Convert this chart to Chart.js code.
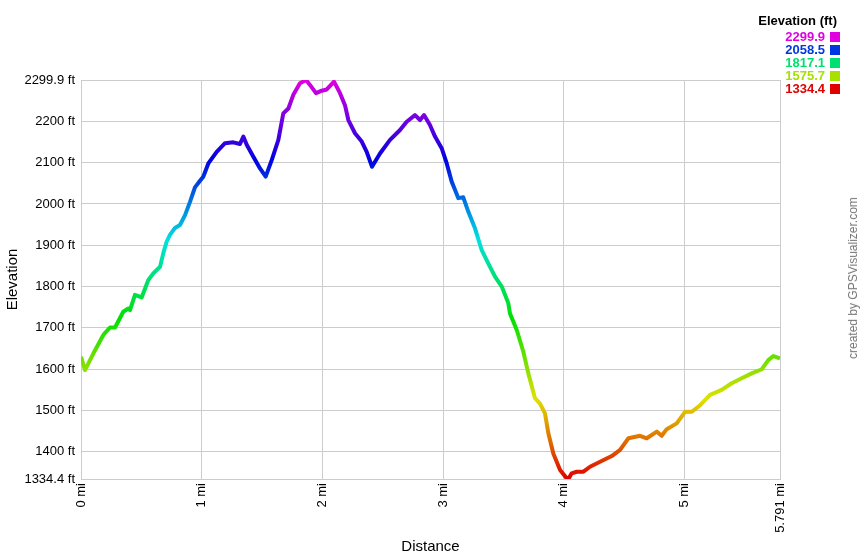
<!DOCTYPE html>
<html>
<head>
<meta charset="utf-8">
<script src="https://cdn.jsdelivr.net/npm/chart.js@4/dist/chart.umd.min.js"></script>
<style>
	html, body { margin: 0; padding: 0; background: #fff; }
	#wrap { position: relative; width: 860px; height: 560px; font-family: Arial, "Liberation Sans", sans-serif; }
	#profile { position: absolute; left: 0; top: 0; }
	#legendTitle { position: absolute; right: 23px; top: 13px; font-weight: bold; font-size: 13px; color: #000; }
	.legRow { position: absolute; right: 20px; height: 13px; line-height: 13px; font-weight: bold; font-size: 13px; white-space: nowrap; }
	.legRow span.sw { display: inline-block; width: 10px; height: 10px; margin-left: 5px; vertical-align: -1px; }
	#credit { position: absolute; left: 853px; top: 278px; transform: translate(-50%, -50%) rotate(-90deg); font-size: 12px; color: #777; white-space: nowrap; }
</style>
</head>
<body>
<div id="wrap">
	<canvas id="profile" width="860" height="560"></canvas>
	<div id="legendTitle">Elevation (ft)</div>
	<div id="legend"></div>
	<div id="credit">created by GPSVisualizer.com</div>
</div>
<script>
// distance in miles
const distance = [0, 0.033, 0.102, 0.185, 0.240, 0.282, 0.350, 0.392, 0.406, 0.447, 0.503, 0.558, 0.599, 0.655, 0.682, 0.710,
	0.737, 0.779, 0.820, 0.862, 0.903, 0.944, 0.986, 1.013, 1.055, 1.124, 1.193, 1.262, 1.317, 1.345, 1.373, 1.428, 1.483,
	1.530, 1.580, 1.635, 1.676, 1.718, 1.759, 1.814, 1.864, 1.897, 1.947, 1.994, 2.036, 2.096, 2.146, 2.187, 2.215, 2.270,
	2.326, 2.367, 2.411, 2.477, 2.560, 2.643, 2.698, 2.767, 2.809, 2.842, 2.891, 2.933, 2.988, 3.030, 3.071, 3.099, 3.126,
	3.167, 3.209, 3.264, 3.320, 3.374, 3.430, 3.486, 3.540, 3.554, 3.610, 3.664, 3.706, 3.761, 3.803, 3.844, 3.872, 3.913,
	3.969, 4.024, 4.037, 4.065, 4.107, 4.162, 4.217, 4.300, 4.397, 4.466, 4.535, 4.632, 4.687, 4.770, 4.811, 4.852, 4.935,
	5.004, 5.060, 5.129, 5.212, 5.308, 5.391, 5.474, 5.557, 5.640, 5.694, 5.736, 5.791];
// elevation in feet
const elevation = [1630, 1598, 1638, 1683, 1701, 1701, 1739, 1747, 1743, 1780, 1774, 1816, 1832, 1848, 1881, 1909,
	1925, 1942, 1949, 1973, 2005, 2040, 2056, 2066, 2098, 2126, 2147, 2149, 2145, 2163, 2143, 2114, 2086,
	2066, 2106, 2155, 2219, 2231, 2264, 2292, 2299.9, 2288, 2268, 2274, 2277, 2296, 2268, 2239, 2203, 2171,
	2151, 2126, 2090, 2122, 2155, 2179, 2199, 2215, 2203, 2215, 2191, 2163, 2135, 2098, 2054, 2034, 2014,
	2016, 1981, 1941, 1888, 1856, 1824, 1800, 1760, 1735, 1695, 1643, 1590, 1530, 1517, 1493, 1445, 1396,
	1356, 1336, 1334.4, 1348, 1352, 1352, 1364, 1376, 1390, 1405, 1433, 1439, 1433, 1449, 1439, 1455, 1469,
	1497, 1497, 1513, 1538, 1550, 1566, 1578, 1590, 1600, 1622, 1632, 1626];

const yTicks = [1334.4, 1400, 1500, 1600, 1700, 1800, 1900, 2000, 2100, 2200, 2299.9];
const xTicks = [0, 1, 2, 3, 4, 5, 5.791];
const legendValues = [2299.9, 2058.5, 1817.1, 1575.7, 1334.4];

const minElev = 1334.4;
const maxElev = 2299.9;

function elevColor(v){
	let f = (v - minElev) / (maxElev - minElev);
	return `hsl(${Math.round(f * 300)},100%,44%)`;
}

// legend
const legend = document.getElementById("legend");
legendValues.forEach((v, i) => {
	let row = document.createElement("div");
	row.className = "legRow";
	row.style.top = (30 + i * 13) + "px";
	row.style.color = elevColor(v);
	row.innerHTML = v.toFixed(1) + '<span class="sw" style="background:' + elevColor(v) + '"></span>';
	legend.appendChild(row);
});

let gradient;
function lineGradient(context){
	const chart = context.chart;
	const {ctx, chartArea, scales} = chart;
	if (!chartArea) return null;
	const y0 = scales.y.getPixelForValue(minElev);
	const y1 = scales.y.getPixelForValue(maxElev);
	gradient = ctx.createLinearGradient(0, y0, 0, y1);
	for (let i = 0; i <= 20; i++) {
		gradient.addColorStop(i / 20, elevColor(minElev + (maxElev - minElev) * i / 20));
	}
	return gradient;
}

const ctx = document.getElementById("profile").getContext("2d");
const tickFont = { family: 'Arial, "Liberation Sans", sans-serif', size: 13 };
const titleFont = { family: 'Arial, "Liberation Sans", sans-serif', size: 15 };

const data = {
	datasets: [
		{
			data: distance.map((d, i) => ({ x: d, y: elevation[i] })),
			borderColor: lineGradient,
			borderWidth: 4,
			borderJoinStyle: 'round',
			pointRadius: 0,
			tension: 0,
			fill: false,
		},
	],
};

const config = {
	type: 'line',
	data: data,
	options: {
		responsive: false,
		animation: false,
		layout: { padding: { left: 0, top: 80, right: 80, bottom: 0 } },
		plugins: {
			legend: { display: false },
			tooltip: { enabled: false },
		},
		scales: {
			x: {
				type: 'linear',
				min: 0,
				max: 5.791,
				afterBuildTicks: (scale) => { scale.ticks = xTicks.map(v => ({ value: v })); },
				afterFit: (scale) => { scale.height = 81; },
				grid: { color: '#cccccc', drawTicks: false },
				border: { color: '#cccccc' },
				ticks: {
					font: tickFont,
					color: '#000',
					padding: 4,
					minRotation: 90,
					maxRotation: 90,
					autoSkip: false,
					callback: function (value){ return value + " mi"; },
				},
				title: { display: true, text: 'Distance', font: titleFont, color: '#000', padding: { top: 4, bottom: 4 } },
			},
			y: {
				min: minElev,
				max: maxElev,
				afterBuildTicks: (scale) => { scale.ticks = yTicks.map(v => ({ value: v })); },
				afterFit: (scale) => { scale.width = 81; },
				grid: { color: '#cccccc', drawTicks: false },
				border: { color: '#cccccc' },
				ticks: {
					font: tickFont,
					color: '#000',
					padding: 6,
					autoSkip: false,
					callback: function (value){ return value + " ft"; },
				},
				title: { display: true, text: 'Elevation', font: titleFont, color: '#000', padding: { top: 4, bottom: 4 } },
			},
		},
	},
};
const profileChart = new Chart(ctx, config);
</script>
</body>
</html>
